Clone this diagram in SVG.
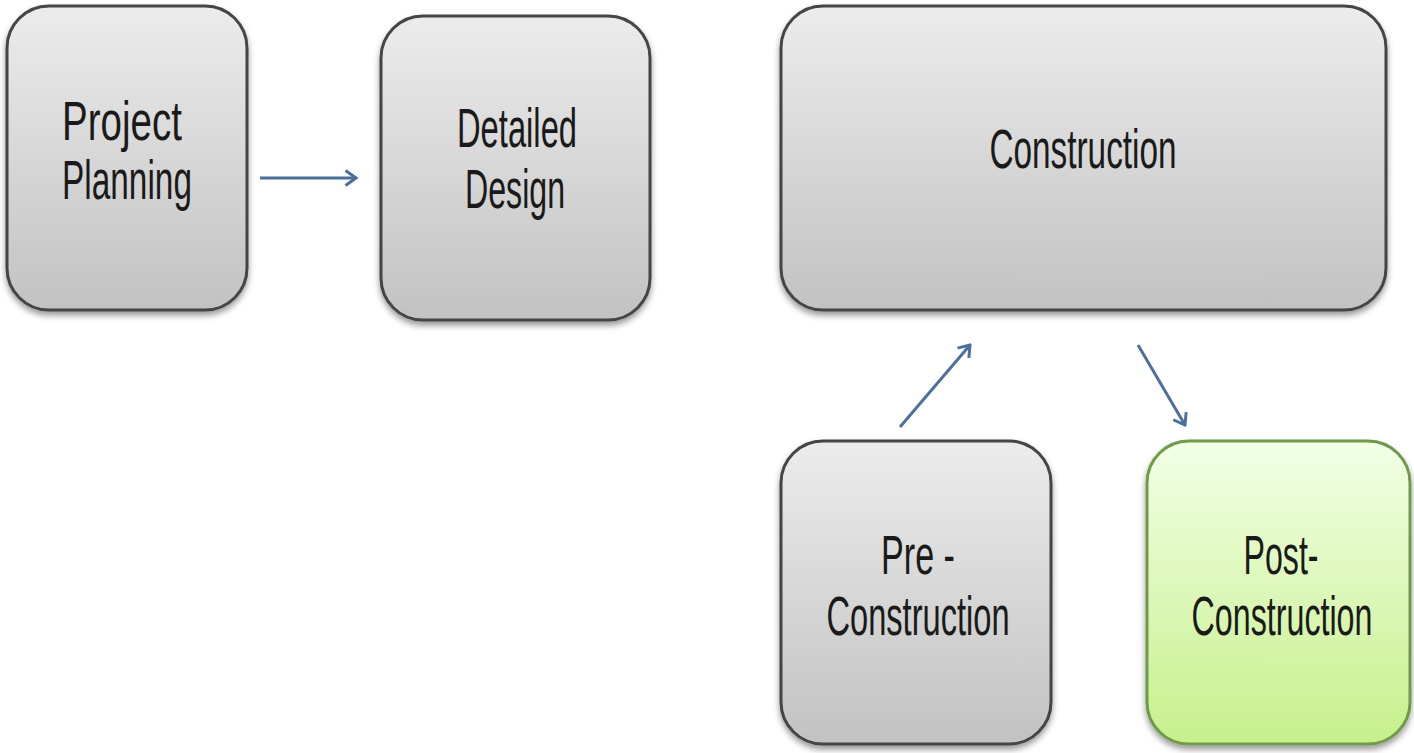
<svg xmlns="http://www.w3.org/2000/svg" width="1414" height="753" viewBox="0 0 1414 753">
<style>
.box{stroke:#454545;stroke-width:3;filter:url(#sh)}
.gray{fill:url(#gg)}
.green{fill:url(#gn);stroke:#6f9a4a}
.t{font-family:"Liberation Sans",Arial,sans-serif;font-size:55px;fill:#1a1a1a;text-anchor:middle}
.conn{stroke:#4d6f9c;stroke-width:3;fill:none;marker-end:url(#ah)}
</style>
<defs>
<linearGradient id="gg" x1="0" y1="0" x2="0" y2="1">
<stop offset="0" stop-color="#ececec"/><stop offset="1" stop-color="#c2c2c2"/>
</linearGradient>
<linearGradient id="gn" x1="0" y1="0" x2="0" y2="1">
<stop offset="0" stop-color="#f2ffe6"/><stop offset="1" stop-color="#c6f08c"/>
</linearGradient>
<filter id="sh" x="-10%" y="-10%" width="120%" height="120%">
<feDropShadow dx="0" dy="4" stdDeviation="3" flood-color="#000" flood-opacity="0.4"/>
</filter>
<marker id="ah" viewBox="0 0 14 18" refX="12" refY="9" markerWidth="14" markerHeight="18" markerUnits="userSpaceOnUse" orient="auto">
<path d="M1.5,1.5 L12,9 L1.5,16.5" fill="none" stroke="#4d6f9c" stroke-width="3"/>
</marker>
</defs>
<rect width="1414" height="753" fill="#ffffff"/>
<g id="connectors">
<line class="conn" x1="260" y1="178" x2="356" y2="178"/>
<line class="conn" x1="900" y1="427" x2="970" y2="345"/>
<line class="conn" x1="1138" y1="345" x2="1185" y2="425"/>
</g>
<g id="project-planning">
<rect class="box gray" x="7" y="6" width="240" height="304" rx="42"/>
<text class="t" transform="translate(122 140) scale(0.70 1)">Project</text>
<text class="t" transform="translate(127 199) scale(0.607 1)">Planning</text>
</g>
<g id="detailed-design">
<rect class="box gray" x="381" y="16" width="269" height="304" rx="42"/>
<text class="t" transform="translate(517 147) scale(0.595 1)">Detailed</text>
<text class="t" transform="translate(515 208) scale(0.585 1)">Design</text>
</g>
<g id="construction">
<rect class="box gray" x="781" y="6" width="605" height="304" rx="42"/>
<text class="t" transform="translate(1083 168) scale(0.606 1)">Construction</text>
</g>
<g id="pre-construction">
<rect class="box gray" x="781" y="441" width="270" height="303" rx="42"/>
<text class="t" transform="translate(918 574) scale(0.62 1)">Pre -</text>
<text class="t" transform="translate(918 635) scale(0.593 1)">Construction</text>
</g>
<g id="post-construction">
<rect class="box green" x="1147" y="441" width="263" height="303" rx="42"/>
<text class="t" transform="translate(1281 574) scale(0.585 1)">Post-</text>
<text class="t" transform="translate(1282 635) scale(0.586 1)">Construction</text>
</g>
</svg>
